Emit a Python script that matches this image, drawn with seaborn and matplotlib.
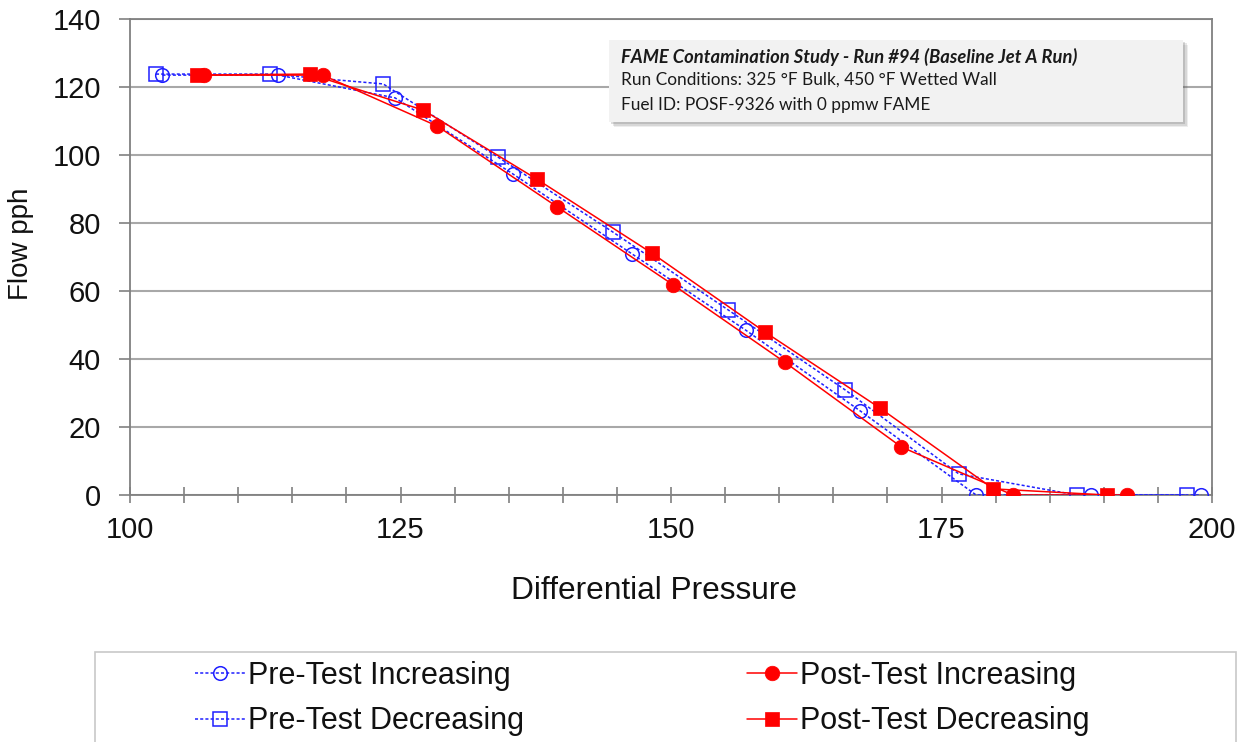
import matplotlib
matplotlib.use("Agg")
import matplotlib.pyplot as plt
import matplotlib.patches as mpatches
from matplotlib.ticker import MultipleLocator
import seaborn as sns
import pandas as pd

# ---- data ----
pre_inc_x = [103.0, 113.7, 124.5, 135.4, 146.4, 156.9, 167.5, 178.2, 188.8, 199.0]
pre_inc_y = [123.5, 123.5, 116.8, 94.4, 70.9, 48.5, 24.7, 0.0, 0.0, 0.0]

pre_dec_x = [102.4, 112.9, 123.4, 134.0, 144.6, 155.3, 166.1, 176.6, 187.5, 197.7]
pre_dec_y = [123.8, 123.8, 120.9, 99.4, 77.4, 54.4, 30.9, 6.2, 0.0, 0.0]

post_inc_x = [106.8, 117.8, 128.4, 139.5, 150.2, 160.5, 171.3, 181.6, 192.1]
post_inc_y = [123.5, 123.5, 108.5, 84.7, 61.8, 39.1, 14.1, 0.0, 0.0]

post_dec_x = [106.2, 116.6, 127.1, 137.6, 148.2, 158.7, 169.3, 179.8, 190.3]
post_dec_y = [123.5, 123.8, 113.2, 92.9, 71.2, 47.9, 25.6, 1.8, 0.0]

series_labels = ["Pre-Test Increasing", "Pre-Test Decreasing",
                 "Post-Test Increasing", "Post-Test Decreasing"]
x_ticks = [100, 125, 150, 175, 200]
y_ticks = [0, 20, 40, 60, 80, 100, 120, 140]

box_lines = ["FAME Contamination Study - Run #94 (Baseline Jet A Run)",
             "Run Conditions: 325 \u00b0F Bulk, 450 \u00b0F Wetted Wall",
             "Fuel ID: POSF-9326 with 0 ppmw FAME"]

sns.set_theme(style="white")
plt.rcParams["font.family"] = ["Liberation Sans", "DejaVu Sans"]

W, H = 1249, 742
fig = plt.figure(figsize=(W / 100, H / 100), dpi=100)
ax = fig.add_axes([130 / W, 1 - 495 / H, (1212 - 130) / W, (495 - 19) / H])

BLUE = "#1f1fff"
RED = "#ff0000"

styles = [
    (pre_inc_x, pre_inc_y, dict(color=BLUE, linestyle=(0, (2.0, 1.4)), linewidth=1.1,
                                marker="o", markersize=9.8, markerfacecolor="none",
                                markeredgecolor=BLUE, markeredgewidth=1.1)),
    (pre_dec_x, pre_dec_y, dict(color=BLUE, linestyle=(0, (2.0, 1.4)), linewidth=1.1,
                                marker="s", markersize=9.8, markerfacecolor="none",
                                markeredgecolor=BLUE, markeredgewidth=1.1)),
    (post_inc_x, post_inc_y, dict(color=RED, linestyle="-", linewidth=1.1,
                                  marker="o", markersize=10.5, markerfacecolor=RED,
                                  markeredgecolor=RED, markeredgewidth=0.5)),
    (post_dec_x, post_dec_y, dict(color=RED, linestyle="-", linewidth=1.1,
                                  marker="s", markersize=10, markerfacecolor=RED,
                                  markeredgecolor=RED, markeredgewidth=0.5)),
]

for (xs, ys, kw), lab in zip(styles, series_labels):
    df = pd.DataFrame({"x": xs, "y": ys})
    sns.lineplot(data=df, x="x", y="y", ax=ax, sort=False, estimator=None,
                 label=lab, zorder=3, **kw)

ax.set_xlim(100, 200)
ax.set_ylim(0, 140)
ax.set_xticks(x_ticks)
ax.xaxis.set_minor_locator(MultipleLocator(5))
ax.set_yticks(y_ticks)
ax.set_xlabel("")
ax.set_ylabel("")

ax.grid(axis="y", color="#a8a8a8", linewidth=1.5, zorder=0)
ax.grid(axis="x", visible=False)
for s in ax.spines.values():
    s.set_color("#808080")
    s.set_linewidth(1.3)

ax.tick_params(axis="x", which="both", direction="inout", length=12, width=1.2,
               color="#808080", labelsize=21, pad=9, labelcolor="#111111", bottom=True)
ax.tick_params(axis="y", which="major", direction="out", length=8, width=1.2,
               color="#808080", labelsize=21, pad=13, labelcolor="#111111", left=True)

# axis titles
fig.text(654 / W, 1 - 591 / H, "Differential Pressure", ha="center", va="center",
         fontsize=22.8, color="#111111")
fig.text(34 / W, 1 - 243.5 / H, "Flow pph", rotation=90, ha="right", va="center",
         fontsize=20, color="#111111")

# legend
handles, labels = ax.get_legend_handles_labels()
ax.get_legend().remove()
fig.patches.append(mpatches.Rectangle((95 / W, -0.05), (1236 - 95) / W, 0.05 + 1 - 652 / H,
                                      transform=fig.transFigure, facecolor="white",
                                      edgecolor="#c8c8c8", linewidth=1.2, zorder=1))
leg = fig.legend(handles, labels, ncol=2, loc="upper left",
                 bbox_to_anchor=(195 / W, 1 - 661 / H), frameon=False,
                 fontsize=22, handlelength=1.65, handletextpad=0.08,
                 columnspacing=7.3, labelspacing=0.5, borderpad=0, borderaxespad=0)
for t in leg.get_texts():
    t.set_color("#111111")

# annotation box with shadow
bx0, bx1, by0, by1 = 609, 1183, 40, 122
for i, a in enumerate([0.10, 0.14, 0.2]):
    off = 5 - i * 1.5
    ax.add_patch(mpatches.Rectangle(((bx0 + off) / W, 1 - (by1 + off) / H),
                                    (bx1 - bx0) / W, (by1 - by0) / H,
                                    transform=fig.transFigure, facecolor="#555555",
                                    edgecolor="none", alpha=a, zorder=8, clip_on=False))
ax.add_patch(mpatches.Rectangle((bx0 / W, 1 - by1 / H), (bx1 - bx0) / W, (by1 - by0) / H,
                                transform=fig.transFigure, facecolor="#f2f2f2",
                                edgecolor="none", zorder=9, clip_on=False))
ys_txt = [57, 80, 105]
sizes = [13.2, 12.4, 12.4]
for i, (line, yy) in enumerate(zip(box_lines, ys_txt)):
    ax.text(621 / W, 1 - yy / H, line, transform=fig.transFigure, ha="left", va="center",
            fontsize=sizes[i], family=["Lato", "DejaVu Sans"], color="#1a1a1a",
            fontweight="bold" if i == 0 else "normal",
            fontstyle="italic" if i == 0 else "normal", zorder=10)

fig.savefig("out.png", dpi=100)
